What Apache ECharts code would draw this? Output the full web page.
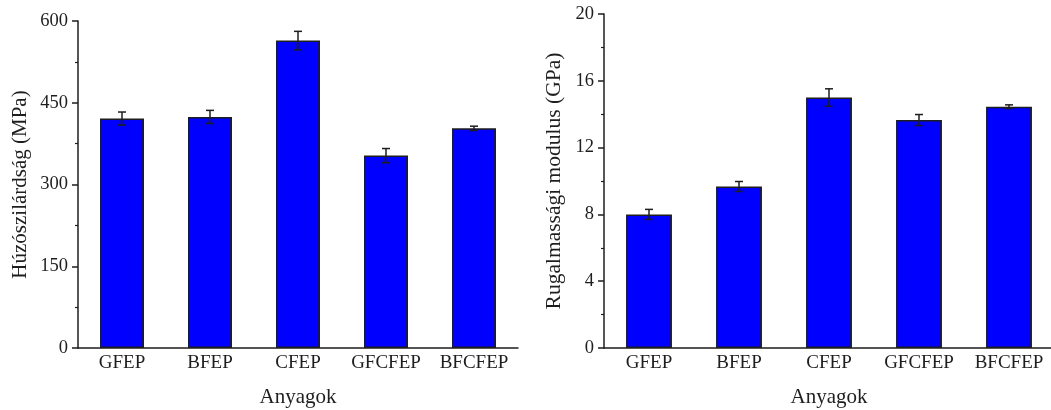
<!DOCTYPE html>
<html>
<head>
<meta charset="utf-8">
<script src="https://cdn.jsdelivr.net/npm/echarts@6/dist/echarts.min.js"></script>
<style>
  html, body { margin: 0; padding: 0; background: #fff; }
  #chart { width: 1051px; height: 410px; }
</style>
</head>
<body>
<div id="chart"></div>
<script>
// Materials on the x axis of both panels
const categories = ['GFEP', 'BFEP', 'CFEP', 'GFCFEP', 'BFCFEP'];

// Tensile strength (MPa) with standard deviations
const strengthValues = [421, 424, 564, 353, 403];
const strengthErrors = [12, 12, 17, 13, 4];

// Elastic modulus (GPa) with standard deviations
const modulusValues = [8.0, 9.67, 15.0, 13.65, 14.45];
const modulusErrors = [0.3, 0.3, 0.52, 0.33, 0.11];

const FONT = 'Liberation Serif';
const INK = '#1e1e1e';

function errorSeries(axisIdx, values, errors) {
  return {
    type: 'custom',
    xAxisIndex: axisIdx,
    yAxisIndex: axisIdx,
    data: values.map((v, i) => [i, v - errors[i], v + errors[i]]),
    z: 10,
    renderItem: function (params, api) {
      const lo = api.coord([api.value(0), api.value(1)]);
      const hi = api.coord([api.value(0), api.value(2)]);
      const half = 4;
      const style = { stroke: INK, lineWidth: 1.5, fill: null };
      return {
        type: 'group',
        children: [
          { type: 'line', shape: { x1: hi[0], y1: hi[1], x2: lo[0], y2: lo[1] }, style },
          { type: 'line', shape: { x1: hi[0] - half, y1: hi[1], x2: hi[0] + half, y2: hi[1] }, style },
          { type: 'line', shape: { x1: lo[0] - half, y1: lo[1], x2: lo[0] + half, y2: lo[1] }, style }
        ]
      };
    }
  };
}

function xAxisCfg(gridIndex) {
  return {
    type: 'category',
    gridIndex,
    data: categories,
    name: 'Anyagok',
    nameLocation: 'middle',
    nameGap: 39,
    nameTextStyle: { fontFamily: FONT, fontSize: 21, color: INK },
    axisLine: { lineStyle: { color: INK, width: 1.5 } },
    axisTick: { show: false },
    axisLabel: { interval: 0, fontFamily: FONT, fontSize: 19, color: INK, margin: 6 },
    splitLine: { show: false }
  };
}

function yAxisCfg(gridIndex, name, max, interval, gap, size) {
  return {
    type: 'value',
    gridIndex,
    min: 0,
    max,
    interval,
    name,
    nameLocation: 'middle',
    nameGap: gap,
    nameTextStyle: { fontFamily: FONT, fontSize: size, color: INK },
    axisLine: { show: true, lineStyle: { color: INK, width: 1.5 } },
    axisTick: { show: true, length: 6, lineStyle: { color: INK, width: 1.5 } },
    minorTick: { show: true, splitNumber: 2, length: 3, lineStyle: { color: INK, width: 1.2 } },
    axisLabel: { fontFamily: FONT, fontSize: 18.5, color: INK, margin: 10 },
    splitLine: { show: false },
    minorSplitLine: { show: false }
  };
}

const barStyle = { color: '#0000ff', borderColor: INK, borderWidth: 1.5 };

const chart = echarts.init(document.getElementById('chart'), null, { renderer: 'canvas' });
chart.setOption({
  animation: false,
  backgroundColor: '#fff',
  grid: [
    { left: 78, top: 21, width: 440, height: 327, outerBoundsMode: 'none' },
    { left: 604, top: 14, width: 450, height: 334, outerBoundsMode: 'none' }
  ],
  xAxis: [xAxisCfg(0), xAxisCfg(1)],
  yAxis: [
    yAxisCfg(0, 'Húzószilárdság (MPa)', 600, 150, 47, 21),
    yAxisCfg(1, 'Rugalmassági modulus (GPa)', 20, 4, 39, 21.5)
  ],
  series: [
    { type: 'bar', xAxisIndex: 0, yAxisIndex: 0, data: strengthValues, barWidth: '50%', itemStyle: barStyle },
    errorSeries(0, strengthValues, strengthErrors),
    { type: 'bar', xAxisIndex: 1, yAxisIndex: 1, data: modulusValues, barWidth: '51%', itemStyle: barStyle },
    errorSeries(1, modulusValues, modulusErrors)
  ]
});
</script>
</body>
</html>
